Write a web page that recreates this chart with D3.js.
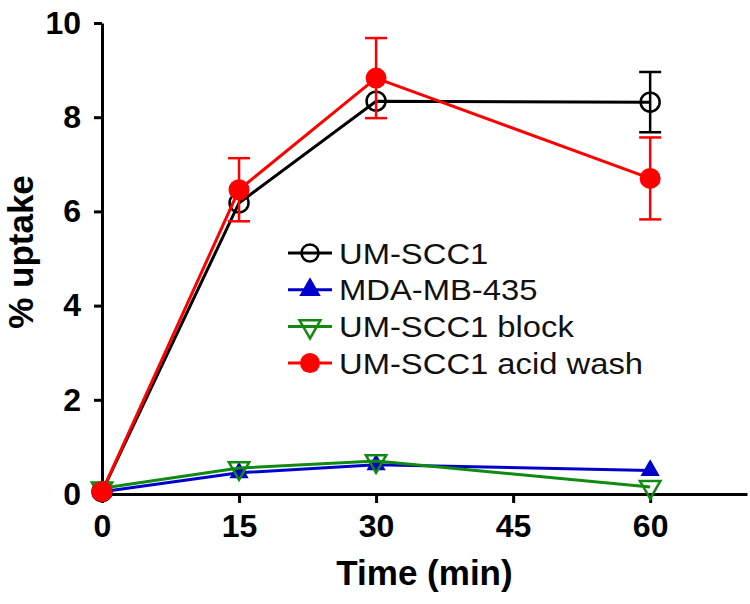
<!DOCTYPE html>
<html>
<head>
<meta charset="utf-8">
<script src="https://cdn.jsdelivr.net/npm/d3@7"></script>
<style>
  body { margin: 0; background: #fff; }
  svg { display: block; }
</style>
</head>
<body>
<svg id="chart"></svg>
<script>
// data
const times = [0, 15, 30, 60];
const xTicks = [0, 15, 30, 45, 60];
const yTicks = [0, 2, 4, 6, 8, 10];

const umscc1      = [0.05, 6.18, 8.34, 8.32];
const umscc1Err   = [0, 0, 0, 0.64];
const mda         = [0.05, 0.45, 0.62, 0.5];
const block       = [0.12, 0.55, 0.7, 0.15];
const acid        = [0.05, 6.46, 8.83, 6.7];
const acidErr     = [0, 0.67, 0.85, 0.87];

const seriesNames  = ["UM-SCC1", "MDA-MB-435", "UM-SCC1 block", "UM-SCC1 acid wash"];
const seriesColors = ["#000000", "#0000cc", "#108a10", "#ff0000"];

const W = 750, H = 604;
const svg = d3.select("#chart").attr("width", W).attr("height", H);

const x = d3.scaleLinear().domain([0, 70.6]).range([102, 747]);
const y = d3.scaleLinear().domain([0, 10]).range([494, 23]);

// axes
let gx = svg.append("g")
  .attr("transform", "translate(0," + y(0) + ")")
  .call(d3.axisBottom(x).tickValues(xTicks).tickSize(9).tickSizeOuter(0).tickPadding(11));
let gy = svg.append("g")
  .attr("transform", "translate(" + x(0) + ",0)")
  .call(d3.axisLeft(y).tickValues(yTicks).tickSize(8).tickSizeOuter(0).tickPadding(13));

[gx, gy].forEach(g => {
  g.select(".domain").attr("stroke", "#000").attr("stroke-width", 3);
  g.selectAll(".tick line").attr("stroke", "#000").attr("stroke-width", 3);
  g.selectAll(".tick text")
    .attr("fill", "#000")
    .style("font-family", "'Liberation Sans', Arial, sans-serif")
    .style("font-size", "32px")
    .style("font-weight", "bold");
});

// axis titles
svg.append("text")
  .attr("x", (x.range()[0] + x.range()[1]) / 2)
  .attr("y", 585)
  .attr("text-anchor", "middle")
  .style("font-family", "'Liberation Sans', Arial, sans-serif")
  .style("font-size", "35px")
  .style("font-weight", "bold")
  .text("Time (min)");

svg.append("text")
  .attr("transform", "translate(33,252) rotate(-90)")
  .attr("text-anchor", "middle")
  .style("font-family", "'Liberation Sans', Arial, sans-serif")
  .style("font-size", "35px")
  .style("font-weight", "bold")
  .text("% uptake");

// markers
const triSym = d3.symbol().type(d3.symbolTriangle);

function drawMarker(g, kind, color, cx, cy, big) {
  if (kind == "open-circle") {
    g.append("circle").attr("cx", cx).attr("cy", cy).attr("r", big ? 8.5 : 9.5)
      .attr("fill", "none").attr("stroke", color).attr("stroke-width", 2.5);
  } else if (kind == "filled-circle") {
    g.append("circle").attr("cx", cx).attr("cy", cy).attr("r", big ? 10 : 10.5)
      .attr("fill", color);
  } else if (kind == "tri-up") {
    g.append("path").attr("d", triSym.size(big ? 200 : 160)())
      .attr("transform", "translate(" + cx + "," + cy + ")")
      .attr("fill", color);
  } else if (kind == "tri-down") {
    g.append("path").attr("d", triSym.size(big ? 190 : 180)())
      .attr("transform", "translate(" + cx + "," + cy + ") rotate(180)")
      .attr("fill", "none").attr("stroke", color).attr("stroke-width", 2.5);
  }
}

const kinds = ["open-circle", "tri-up", "tri-down", "filled-circle"];
const values = [umscc1, mda, block, acid];
const errs = [umscc1Err, null, null, acidErr];

const line = d3.line().x(d => x(d[0])).y(d => y(d[1]));

values.forEach((vals, i) => {
  let g = svg.append("g");
  let pts = times.map((t, j) => [t, vals[j]]);
  let col = seriesColors[i];

  // error bars
  if (errs[i]) {
    pts.forEach((p, j) => {
      let e = errs[i][j];
      if (!e) return;
      let cx = x(p[0]);
      g.append("line").attr("x1", cx).attr("x2", cx)
        .attr("y1", y(p[1] - e)).attr("y2", y(p[1] + e))
        .attr("stroke", col).attr("stroke-width", 2.5);
      [p[1] - e, p[1] + e].forEach(v => {
        g.append("line").attr("x1", cx - 11).attr("x2", cx + 11)
          .attr("y1", y(v)).attr("y2", y(v))
          .attr("stroke", col).attr("stroke-width", 2.5);
      });
    });
  }

  g.append("path").datum(pts).attr("d", line)
    .attr("fill", "none").attr("stroke", col).attr("stroke-width", 3);

  pts.forEach(p => drawMarker(g, kinds[i], col, x(p[0]), y(p[1]), false));
});

// legend
let legend = svg.append("g");
seriesNames.forEach((name, i) => {
  let ly = 253 + i * 36.7;
  legend.append("line").attr("x1", 288).attr("x2", 332).attr("y1", ly).attr("y2", ly)
    .attr("stroke", seriesColors[i]).attr("stroke-width", 3);
  drawMarker(legend, kinds[i], seriesColors[i], 310, ly, true);
  legend.append("text")
    .attr("transform", "translate(339," + (ly + 10.5) + ") scale(1.13,1)")
    .style("font-family", "'Liberation Sans', Arial, sans-serif")
    .style("font-size", "29px")
    .attr("fill", "#111")
    .text(name);
});
</script>
</body>
</html>
